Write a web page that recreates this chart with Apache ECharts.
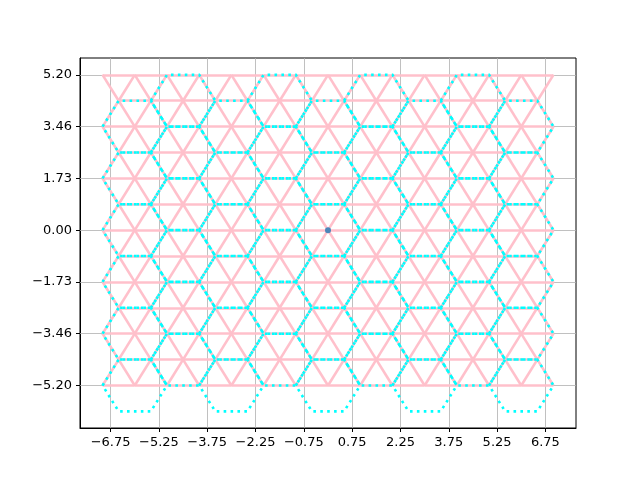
<!DOCTYPE html>
<html>
<head>
<meta charset="utf-8">
<script src="https://cdn.jsdelivr.net/npm/echarts@6/dist/echarts.min.js"></script>
<style>html,body{margin:0;padding:0;background:#fff}#main{width:640px;height:480px}</style>
</head>
<body>
<div id="main"></div>
<script>
var H = Math.sqrt(3) / 2;
// triangular lattice rows: row index k, y = k*H
var rowIndex = [-6, -5, -4, -3, -2, -1, 0, 1, 2, 3, 4, 5, 6];
var evenRowX = [-7, -6, -5, -4, -3, -2, -1, 0, 1, 2, 3, 4, 5, 6, 7];
var oddRowX = [-6.5, -5.5, -4.5, -3.5, -2.5, -1.5, -0.5, 0.5, 1.5, 2.5, 3.5, 4.5, 5.5, 6.5];
// hexagon centres: column x and the row indices (y = k*H) used in that column
var hexColX = [-6, -4.5, -3, -1.5, 0, 1.5, 3, 4.5, 6];
var hexEvenRows = [-6, -4, -2, 0, 2, 4];
var hexOddRows = [-5, -3, -1, 1, 3, 5];
var xTicks = [-6.75, -5.25, -3.75, -2.25, -0.75, 0.75, 2.25, 3.75, 5.25, 6.75];
var yTicks = [-6, -4, -2, 0, 2, 4, 6].map(function (k) { return k * H; });
var centrePoint = [[0, 0]];

function rowXs(k) { return Math.abs(k) % 2 === 0 ? evenRowX : oddRowX; }

var triEdges = [];
rowIndex.forEach(function (k) {
    var xs = rowXs(k), y = k * H;
    for (var i = 0; i + 1 < xs.length; i++) triEdges.push({ coords: [[xs[i], y], [xs[i + 1], y]] });
    if (k < 6) {
        var up = rowXs(k + 1);
        xs.forEach(function (x) {
            up.forEach(function (u) {
                if (Math.abs(u - x) === 0.5) triEdges.push({ coords: [[x, y], [u, (k + 1) * H]] });
            });
        });
    }
});

var hexes = [];
hexColX.forEach(function (cx, j) {
    var rows = j % 2 === 0 ? hexEvenRows : hexOddRows;
    rows.forEach(function (k) {
        var cy = k * H;
        hexes.push({ coords: [[cx - 1, cy], [cx - 0.5, cy + H], [cx + 0.5, cy + H], [cx + 1, cy],
            [cx + 0.5, cy - H], [cx - 0.5, cy - H], [cx - 1, cy]] });
    });
});

var xMin = -7.7, xMax = 7.7, yMin = -6.62, yMax = 5.76;
var gridLines = [];
xTicks.forEach(function (x) { gridLines.push({ coords: [[x, yMin], [x, yMax]] }); });
yTicks.forEach(function (y) { gridLines.push({ coords: [[xMin, y], [xMax, y]] }); });

function fmt(v, d) { var s = v.toFixed(d); return v < -1e-9 ? '\u2212' + s.slice(1) : s; }

var myChart = echarts.init(document.getElementById('main'));
myChart.setOption({
    animation: false,
    grid: { left: 80, right: 64, top: 58, bottom: 52, show: true, borderColor: '#000', borderWidth: 1 },
    xAxis: {
        type: 'value', min: xMin, max: xMax,
        axisLine: { onZero: false, lineStyle: { color: '#000' } },
        axisTick: { customValues: xTicks, length: 4, lineStyle: { color: '#000' } },
        axisLabel: { customValues: xTicks, color: '#000', fontSize: 13, fontFamily: 'DejaVu Sans', formatter: function (v) { return fmt(v, 2); } },
        splitLine: { show: false }
    },
    yAxis: {
        type: 'value', min: yMin, max: yMax,
        axisLine: { onZero: false, show: true, lineStyle: { color: '#000' } },
        axisTick: { show: true, customValues: yTicks, length: 4, lineStyle: { color: '#000' } },
        axisLabel: { customValues: yTicks, color: '#000', fontSize: 13, fontFamily: 'DejaVu Sans', formatter: function (v) { return fmt(v, 2); } },
        splitLine: { show: false }
    },
    series: [
        { type: 'lines', coordinateSystem: 'cartesian2d', data: gridLines, silent: true, z: 1,
          lineStyle: { color: '#b0b0b0', width: 0.8, opacity: 1 } },
        { type: 'lines', coordinateSystem: 'cartesian2d', data: triEdges, z: 2,
          lineStyle: { color: '#ffc0cb', width: 2.6, opacity: 1 } },
        { type: 'lines', coordinateSystem: 'cartesian2d', polyline: true, data: hexes, z: 3,
          lineStyle: { color: '#00ffff', width: 2.6, opacity: 1, type: [2.6, 4.3] } },
        { type: 'scatter', data: centrePoint, symbolSize: 6, z: 4, itemStyle: { color: '#1f77b4' } }
    ]
});
</script>
</body>
</html>
